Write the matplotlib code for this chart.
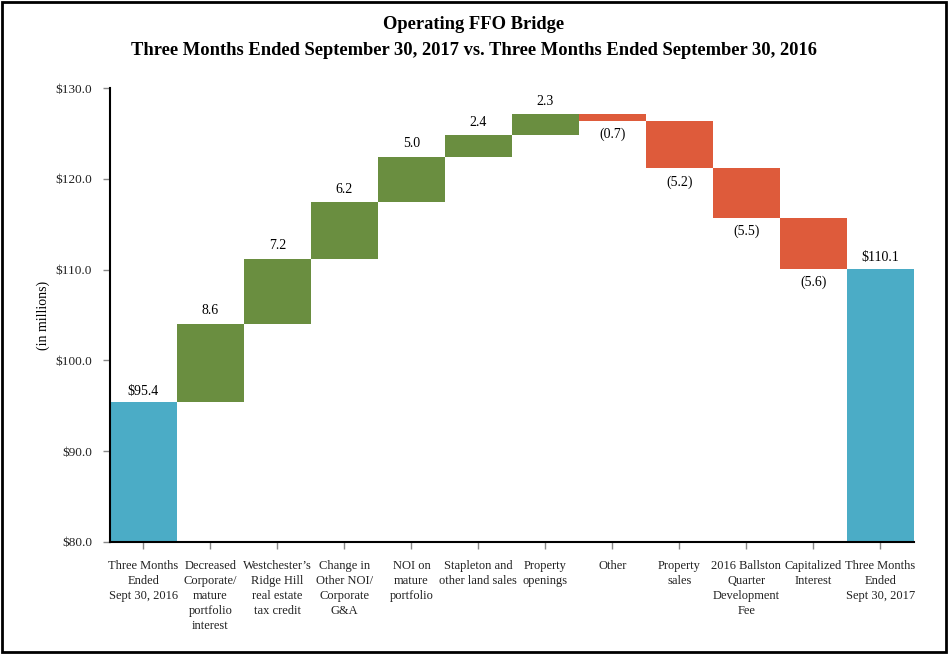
import matplotlib
matplotlib.use("Agg")
import matplotlib.pyplot as plt
from matplotlib.patches import Rectangle

plt.rcParams['font.family'] = ['Liberation Serif', 'DejaVu Serif']

categories = ["Three Months\nEnded\nSept 30, 2016", "Decreased\nCorporate/\nmature\nportfolio\ninterest",
              "Westchester\u2019s\nRidge Hill\nreal estate\ntax credit", "Change in\nOther NOI/\nCorporate\nG&A",
              "NOI on\nmature\nportfolio", "Stapleton and\nother land sales", "Property\nopenings", "Other",
              "Property\nsales", "2016 Ballston\nQuarter\nDevelopment\nFee", "Capitalized\nInterest",
              "Three Months\nEnded\nSept 30, 2017"]
start_value = 95.4
changes = [8.6, 7.2, 6.2, 5.0, 2.4, 2.3, -0.7, -5.2, -5.5, -5.6]
end_value = 110.1
yticks = [80, 90, 100, 110, 120, 130]

BLUE = "#4BACC6"
GREEN = "#6A8E40"
RED = "#DE5B3B"

fig = plt.figure(figsize=(9.48, 6.54), dpi=100)
ax = fig.add_axes([0.116, 0.1713, 0.848, 0.6941])

ymin = 80
# start bar
ax.bar(0, start_value - ymin, bottom=ymin, width=1.0, color=BLUE)
ax.annotate(f"${start_value:.1f}", (0, start_value), xytext=(0, 8), textcoords='offset points',
            ha='center', va='center', fontsize=10)
run = start_value
for i, c in enumerate(changes, start=1):
    lo = run if c >= 0 else run + c
    ax.bar(i, abs(c), bottom=lo, width=1.0, color=GREEN if c >= 0 else RED)
    if c >= 0:
        ax.annotate(f"{c:.1f}", (i, run + c), xytext=(0, 9.5), textcoords='offset points',
                    ha='center', va='center', fontsize=10)
    else:
        ax.annotate(f"({abs(c):.1f})", (i, run + c), xytext=(0, -10), textcoords='offset points',
                    ha='center', va='center', fontsize=10)
    run += c
n = len(categories) - 1
ax.bar(n, end_value - ymin, bottom=ymin, width=1.0, color=BLUE)
ax.annotate(f"${end_value:.1f}", (n, end_value), xytext=(0, 8), textcoords='offset points',
            ha='center', va='center', fontsize=10)

ax.set_xlim(-0.5, n + 0.5)
ax.set_ylim(80, 130)
ax.set_yticks(yticks)
ax.set_yticklabels([f"${v:.1f}" for v in yticks], fontsize=9.5, color='#222222')
ax.set_xticks(range(len(categories)))
ax.set_xticklabels(categories, fontsize=9, color='#222222', linespacing=1.33, va='top')
ax.tick_params(axis='both', direction='out', length=5, color='#888888', width=1)
ax.tick_params(axis='x', pad=8)
ax.tick_params(axis='y', pad=8)
for s in ['top', 'right']:
    ax.spines[s].set_visible(False)
for s in ['left', 'bottom']:
    ax.spines[s].set_color('black')
    ax.spines[s].set_linewidth(1.5)
ax.set_ylabel("(in millions)", fontsize=10, labelpad=4)

fig.text(0.5, 0.963, "Operating FFO Bridge", ha='center', va='center', fontsize=13.3, fontweight='bold')
fig.text(0.5, 0.923, "Three Months Ended September 30, 2017 vs. Three Months Ended September 30, 2016",
         ha='center', va='center', fontsize=13.3, fontweight='bold')

fig.patches.append(Rectangle((0.002, 0.003), 0.996, 0.994, transform=fig.transFigure,
                             fill=False, edgecolor='black', linewidth=2))

fig.savefig("out.png", dpi=100)
